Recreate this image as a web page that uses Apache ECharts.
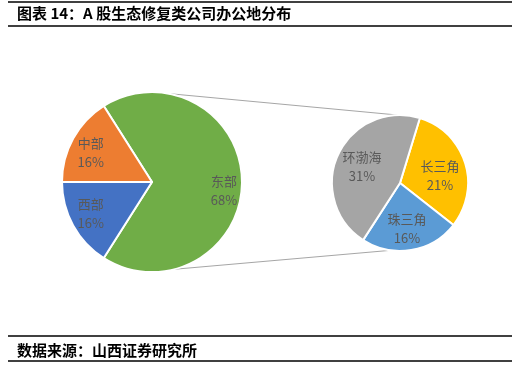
<!DOCTYPE html>
<html>
<head>
<meta charset="utf-8">
<script src="https://cdn.jsdelivr.net/npm/echarts@6/dist/echarts.min.js"></script>
<style>
html,body{margin:0;padding:0;background:#fff;}
#c{width:529px;height:366px;}
</style>
</head>
<body>
<div id="c"></div>
<script>
// Data
const primaryCategories = ['东部', '西部', '中部'];
const primaryValues = [68, 16, 16];
const secondaryCategories = ['长三角', '珠三角', '环渤海'];
const secondaryValues = [21, 16, 31];
const titleText = '图表 14：A 股生态修复类公司办公地分布';
const sourceText = '数据来源：山西证券研究所';

const primaryColors = ['#70AD47', '#4472C4', '#ED7D31'];
const secondaryColors = ['#FFC000', '#5B9BD5', '#A5A5A5'];
const primaryLabelOffsets = [[2, 9], [0, -2], [0, 4]];
const secondaryLabelOffsets = [[0, 5], [0, 4], [0, 1]];

const L = {cx: 152, cy: 182, r: 90};
const R = {cx: 400, cy: 183, r: 68};
const FONT = '"Noto Sans CJK SC", "Noto Sans", sans-serif';

function toData(cats, vals, colors) {
  return cats.map((c, i) => ({name: c, value: vals[i], itemStyle: {color: colors[i]}}));
}
function toLabelData(cats, vals, offs) {
  return cats.map((c, i) => ({name: c, value: vals[i], label: {offset: offs[i]}}));
}
const labelStyle = {
  show: true, position: 'inside', color: '#595959', fontSize: 13,
  lineHeight: 19, fontFamily: FONT,
  formatter: p => p.name + '\n' + p.value + '%'
};
function pt(c, deg) {
  const a = deg * Math.PI / 180;
  return [c.cx + c.r * Math.cos(a), c.cy - c.r * Math.sin(a)];
}
const t1 = pt(L, 79), t2 = pt(R, 92), b1 = pt(L, -76), b2 = pt(R, -98);

const chart = echarts.init(document.getElementById('c'), null, {renderer: 'canvas'});
chart.setOption({
  animation: false,
  backgroundColor: '#fff',
  series: [
    {
      type: 'pie', center: [L.cx, L.cy], radius: [0, L.r], startAngle: 122.4,
      clockwise: true, silent: true, avoidLabelOverlap: false,
      label: {show: false}, labelLine: {show: false},
      itemStyle: {borderColor: '#fff', borderWidth: 2},
      data: toData(primaryCategories, primaryValues, primaryColors)
    },
    {
      type: 'pie', center: [L.cx, L.cy], radius: [0, 2 * 67], startAngle: 122.4,
      clockwise: true, silent: true, avoidLabelOverlap: false,
      label: labelStyle, labelLine: {show: false},
      itemStyle: {color: 'rgba(0,0,0,0)', borderWidth: 0},
      data: toLabelData(primaryCategories, primaryValues, primaryLabelOffsets)
    },
    {
      type: 'pie', center: [R.cx, R.cy], radius: [0, R.r], startAngle: 73,
      clockwise: true, silent: true, avoidLabelOverlap: false,
      label: {show: false}, labelLine: {show: false},
      itemStyle: {borderColor: '#fff', borderWidth: 2},
      data: toData(secondaryCategories, secondaryValues, secondaryColors)
    },
    {
      type: 'pie', center: [R.cx, R.cy], radius: [0, 2 * 39], startAngle: 73,
      clockwise: true, silent: true, avoidLabelOverlap: false,
      label: labelStyle, labelLine: {show: false},
      itemStyle: {color: 'rgba(0,0,0,0)', borderWidth: 0},
      data: toLabelData(secondaryCategories, secondaryValues, secondaryLabelOffsets)
    }
  ],
  graphic: [
    {type: 'line', shape: {x1: 8, y1: 2, x2: 512, y2: 2}, style: {stroke: '#000', lineWidth: 1.5}},
    {type: 'line', shape: {x1: 8, y1: 26, x2: 512, y2: 26}, style: {stroke: '#000', lineWidth: 1.5}},
    {type: 'text', left: 17, top: 6, style: {text: titleText, font: 'bold 15px ' + FONT, fill: '#000'}},
    {type: 'line', shape: {x1: 8, y1: 336, x2: 512, y2: 336}, style: {stroke: '#000', lineWidth: 1.5}},
    {type: 'line', shape: {x1: 8, y1: 361, x2: 512, y2: 361}, style: {stroke: '#000', lineWidth: 1.5}},
    {type: 'text', left: 17, top: 343, style: {text: sourceText, font: 'bold 15px ' + FONT, fill: '#000'}},
    {type: 'line', z: 0, shape: {x1: t1[0], y1: t1[1], x2: t2[0], y2: t2[1]}, style: {stroke: '#A6A6A6', lineWidth: 1}},
    {type: 'line', z: 0, shape: {x1: b1[0], y1: b1[1], x2: b2[0], y2: b2[1]}, style: {stroke: '#A6A6A6', lineWidth: 1}}
  ]
});
</script>
</body>
</html>
